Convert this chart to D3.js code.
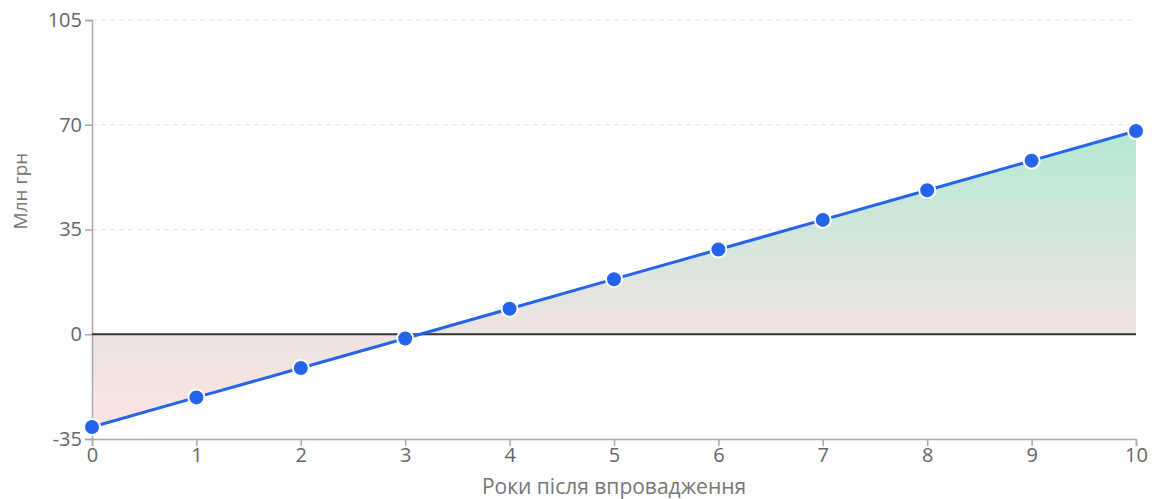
<!DOCTYPE html>
<html lang="uk">
<head>
    <meta charset="UTF-8">
    <title>Окупність</title>
    <script src="https://d3js.org/d3.v7.min.js"></script>
    <style>
        body { margin: 0; background: #fff; }
        text { font-family: "Open Sans", "Noto Sans", sans-serif; }
    </style>
</head>
<body>
    <div id="chart"></div>
    <script>
        // data
        const years = [0, 1, 2, 3, 4, 5, 6, 7, 8, 9, 10];
        const values = [-31, -21.1, -11.3, -1.4, 8.5, 18.4, 28.3, 38.2, 48.1, 58.0, 67.9];
        const yTicks = [-35, 0, 35, 70, 105];
        const xLabel = "Роки після впровадження";
        const yLabel = "Млн грн";

        const width = 1164;
        const height = 499;
        const margin = { top: 20, right: 28, bottom: 60, left: 92 };

        const data = years.map((y, i) => ({ year: y, value: values[i] }));

        const svg = d3.select("#chart")
            .append("svg")
            .attr("width", width)
            .attr("height", height);

        const x = d3.scaleLinear()
            .domain([0, 10])
            .range([margin.left, width - margin.right]);

        const y = d3.scaleLinear()
            .domain([-35, 105])
            .range([height - margin.bottom, margin.top]);

        // gradient for the area
        const grad = svg.append("defs").append("linearGradient")
            .attr("id", "fillGrad")
            .attr("gradientUnits", "userSpaceOnUse")
            .attr("x1", 0).attr("x2", 0)
            .attr("y1", y(70)).attr("y2", y(-31));
        grad.append("stop").attr("offset", "0%").attr("stop-color", "#b2e9d4");
        grad.append("stop").attr("offset", "65%").attr("stop-color", "#ece4e1");
        grad.append("stop").attr("offset", "100%").attr("stop-color", "#fbe3e3");

        // grid lines
        svg.append("g")
            .selectAll("line")
            .data(yTicks.filter(d => d > 0))
            .enter().append("line")
            .attr("x1", margin.left)
            .attr("x2", width - margin.right)
            .attr("y1", d => y(d))
            .attr("y2", d => y(d))
            .attr("stroke", "#e3e3e3")
            .attr("stroke-dasharray", "5,4");

        // area between line and zero
        const area = d3.area()
            .x(d => x(d.year))
            .y0(y(0))
            .y1(d => y(d.value));

        svg.append("path")
            .datum(data)
            .attr("fill", "url(#fillGrad)")
            .attr("d", area);

        // axes
        const xAxis = svg.append("g")
            .attr("transform", "translate(0," + (height - margin.bottom) + ")")
            .call(d3.axisBottom(x).tickValues(years).tickSize(7).tickSizeOuter(7));

        const yAxis = svg.append("g")
            .attr("transform", "translate(" + margin.left + ",0)")
            .call(d3.axisLeft(y).tickValues(yTicks).tickFormat(d => String(d)).tickSize(7).tickSizeOuter(7));

        [xAxis, yAxis].forEach(g => {
            g.selectAll("path, line").attr("stroke", "#a9a9ad").attr("stroke-width", 1.5);
            g.selectAll("text").attr("fill", "#666").attr("font-size", 20);
        });
        xAxis.selectAll("text").attr("y", 8).attr("dy", "0.75em");
        yAxis.selectAll("text").attr("x", -10);

        // zero line
        svg.append("line")
            .attr("x1", margin.left)
            .attr("x2", width - margin.right)
            .attr("y1", y(0))
            .attr("y2", y(0))
            .attr("stroke", "#333")
            .attr("stroke-width", 2);

        // main line
        const line = d3.line()
            .x(d => x(d.year))
            .y(d => y(d.value));

        svg.append("path")
            .datum(data)
            .attr("fill", "none")
            .attr("stroke", "#2563eb")
            .attr("stroke-width", 3)
            .attr("d", line);

        svg.selectAll("circle")
            .data(data)
            .enter().append("circle")
            .attr("cx", d => x(d.year))
            .attr("cy", d => y(d.value))
            .attr("r", 8)
            .attr("fill", "#2563eb")
            .attr("stroke", "#fff")
            .attr("stroke-width", 2);

        // axis labels
        svg.append("text")
            .attr("x", (margin.left + width - margin.right) / 2)
            .attr("y", 494)
            .attr("text-anchor", "middle")
            .attr("fill", "#777")
            .attr("font-size", 21)
            .text(xLabel);

        svg.append("text")
            .attr("transform", "translate(27,191) rotate(-90)")
            .attr("text-anchor", "middle")
            .attr("fill", "#777")
            .attr("font-size", 19)
            .text(yLabel);
    </script>
</body>
</html>
